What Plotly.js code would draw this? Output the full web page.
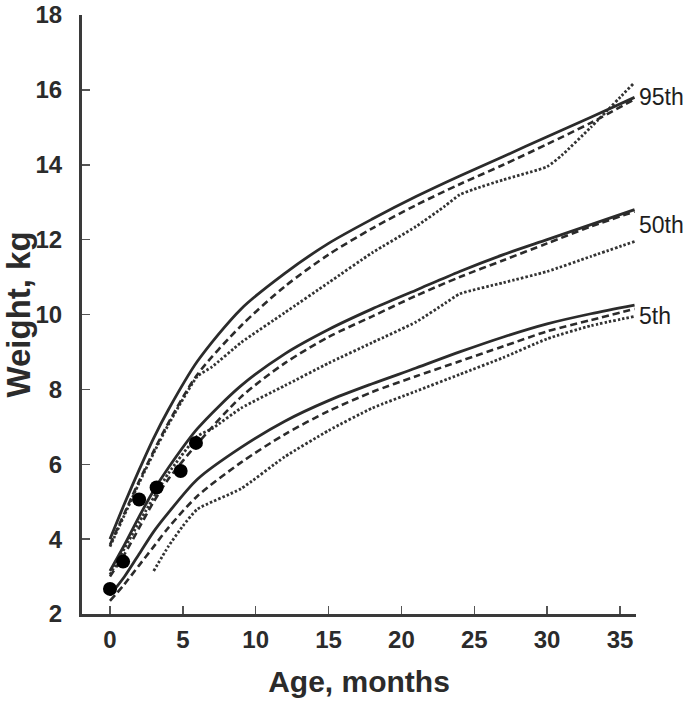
<!DOCTYPE html>
<html>
<head>
<meta charset="utf-8">
<script src="https://cdn.plot.ly/plotly-3.0.1.min.js"></script>
<style>
html,body{margin:0;padding:0;background:#fff;}
#chart{width:685px;height:706px;}
</style>
</head>
<body>
<div id="chart"></div>
<script>
// Age (months) for the solid and dashed reference curves
const ageMain = [0,1,2,3,4,6,9,12,15,18,21,24,27,30,33,36];
const p95Solid  = [4.0,4.95,5.85,6.7,7.45,8.75,10.15,11.1,11.9,12.55,13.15,13.7,14.22,14.75,15.27,15.8];
const p95Dashed = [3.85,4.7,5.55,6.35,7.1,8.4,9.7,10.75,11.6,12.3,12.92,13.48,14.0,14.55,15.12,15.75];
const p50Solid  = [3.15,3.85,4.6,5.3,5.9,6.95,8.1,8.95,9.6,10.15,10.65,11.15,11.6,12.0,12.4,12.8];
const p50Dashed = [3.0,3.6,4.3,5.0,5.6,6.55,7.8,8.7,9.4,9.95,10.5,11.0,11.45,11.9,12.35,12.75];
const p5Solid   = [2.5,3.0,3.6,4.2,4.7,5.6,6.45,7.15,7.7,8.15,8.57,9.0,9.4,9.75,10.02,10.25];
const p5Dashed  = [2.35,2.8,3.3,3.8,4.3,5.15,6.05,6.8,7.42,7.93,8.35,8.75,9.15,9.55,9.85,10.15];

// Dotted curves
const p95DottedAge = [0,1,2,3,4,6,7,9,12,15,18,21,23,24,25,27,30,31,33,36];
const p95Dotted    = [3.8,4.65,5.5,6.3,7.05,8.35,8.6,9.25,10.05,10.85,11.65,12.35,12.9,13.2,13.35,13.6,13.95,14.25,15.0,16.2];
const p50DottedAge = [0,2,4,6,7,9,12,15,18,21,23,24,27,30,33,36];
const p50Dotted    = [3.05,4.45,5.75,6.75,6.95,7.5,8.1,8.7,9.25,9.8,10.3,10.55,10.85,11.15,11.55,11.95];
const p5DottedAge  = [3,4,5,6,9,12,15,18,21,24,27,30,33,36];
const p5Dotted     = [3.15,3.8,4.35,4.8,5.35,6.2,6.9,7.5,7.95,8.4,8.85,9.35,9.7,9.95];

// Individual child's measurements
const childAge    = [0,0.9,2.0,3.2,4.85,5.9];
const childWeight = [2.67,3.4,5.06,5.38,5.82,6.57];

// Percentile labels
const pctLabels = ["95th","50th","5th"];
const pctLabelY = [15.82,12.4,9.96];

const xTicks = [0,5,10,15,20,25,30,35];
const yTicks = [2,4,6,8,10,12,14,16,18];

const lineColor = "#2b2b2b";
const solidStyle  = {color: lineColor, width: 2.8, shape: "spline", smoothing: 0.8};
const dashedStyle = {color: lineColor, width: 2.6, dash: "7px,4px", shape: "spline", smoothing: 0.8};
const dottedStyle = {color: "#333", width: 2.8, dash: "2.5px,2px", shape: "spline", smoothing: 0.5};

function tr(x, y, line){ return {x: x, y: y, type: "scatter", mode: "lines", line: line, hoverinfo: "skip", showlegend: false}; }

const data = [
  tr(p95DottedAge, p95Dotted, dottedStyle),
  tr(p50DottedAge, p50Dotted, dottedStyle),
  tr(p5DottedAge, p5Dotted, dottedStyle),
  tr(ageMain, p95Dashed, dashedStyle),
  tr(ageMain, p50Dashed, dashedStyle),
  tr(ageMain, p5Dashed, dashedStyle),
  tr(ageMain, p95Solid, solidStyle),
  tr(ageMain, p50Solid, solidStyle),
  tr(ageMain, p5Solid, solidStyle),
  {x: childAge, y: childWeight, type: "scatter", mode: "markers",
   marker: {color: "#000", size: 14}, showlegend: false, hoverinfo: "skip"}
];

const fontFam = "'Liberation Sans', Arial, sans-serif";
const annotations = pctLabels.map((t, i) => ({
  x: 36, y: pctLabelY[i], xref: "x", yref: "y", text: t, showarrow: false,
  xanchor: "left", yanchor: "middle", xshift: 2,
  font: {family: fontFam, size: 23, color: "#1e1e1e"}
}));

const layout = {
  width: 685, height: 706,
  margin: {l: 82, r: 49, t: 15, b: 92, pad: 0},
  paper_bgcolor: "#fff", plot_bgcolor: "#fff",
  showlegend: false,
  font: {family: fontFam, color: "#2b2b2b"},
  xaxis: {
    range: [-1.92, 36.1], tickvals: xTicks, ticktext: xTicks.map(v => "<b>" + v + "</b>"),
    showgrid: false, zeroline: false, showline: true, linewidth: 3, linecolor: "#3a3a3a",
    ticks: "inside", ticklen: 8, tickwidth: 1.5, tickcolor: "#555",
    tickfont: {family: fontFam, size: 24, color: "#2b2b2b"},
    ticklabelstandoff: 2,
    title: {text: "<b>Age, months</b>", font: {family: fontFam, size: 30, color: "#2b2b2b"}, standoff: 20},
    automargin: false
  },
  yaxis: {
    range: [2, 18], tickvals: yTicks, ticktext: yTicks.map(v => "<b>" + v + "</b>"),
    showgrid: false, zeroline: false, showline: true, linewidth: 3, linecolor: "#3a3a3a",
    ticks: "inside", ticklen: 8, tickwidth: 1.5, tickcolor: "#555",
    tickfont: {family: fontFam, size: 24, color: "#2b2b2b"},
    ticklabelstandoff: 12,
    title: {text: "<b>Weight, kg</b>", font: {family: fontFam, size: 33, color: "#2b2b2b"}, standoff: 22},
    automargin: false
  },
  annotations: annotations
};

Plotly.newPlot("chart", data, layout, {staticPlot: true, displayModeBar: false});
</script>
</body>
</html>
